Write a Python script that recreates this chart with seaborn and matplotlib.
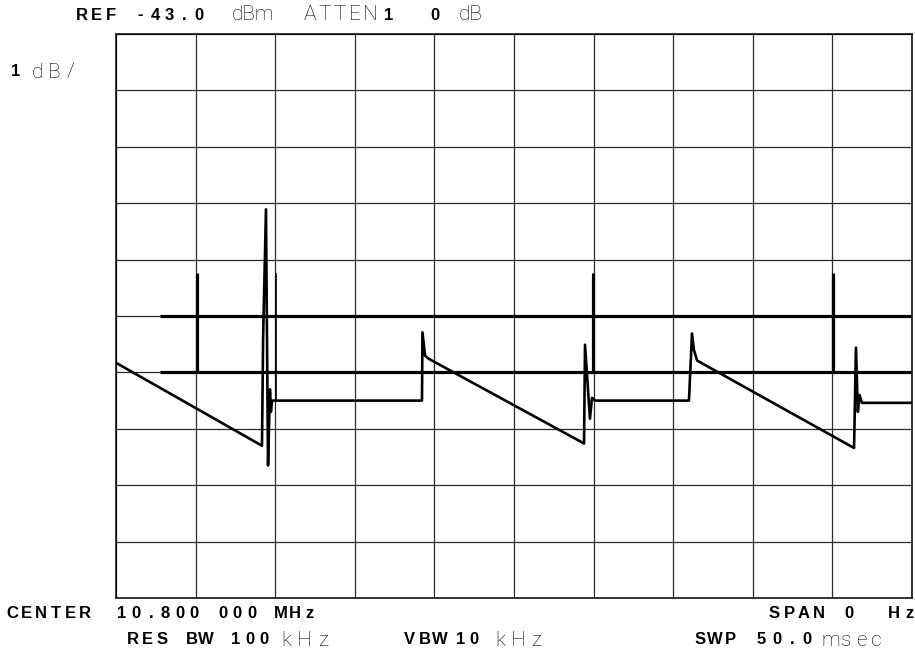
import pandas as pd
import matplotlib
matplotlib.use("Agg")
import matplotlib.pyplot as plt
import seaborn as sns

# Main trace (zero span, time in ms vs level in dBm)
time_ms = [0.0, 9.17, 9.24, 9.42, 9.55, 9.67, 9.73, 9.80,
           19.22, 19.25, 19.41, 19.60, 19.91,
           29.40, 29.46, 29.77, 29.90, 30.10,
           35.99, 36.18, 36.30, 36.50,
           46.36, 46.48, 46.60, 46.70, 46.86, 50.0]
level_dbm = [-48.83, -50.30, -48.40, -46.11, -50.65, -49.30, -49.70, -49.50,
             -49.50, -48.29, -48.70, -48.75, -48.80,
             -50.26, -48.51, -49.82, -49.45, -49.50,
             -49.50, -48.31, -48.60, -48.79,
             -50.34, -48.56, -49.70, -49.40, -49.54, -49.54]

# Second (gate) trace
gate_levels = [-48.0, -49.0]
gate_start, gate_end = 2.76, 50.0
gate_edges = [5.09, 29.96, 45.04]
gate_thin_edge = 10.05
gate_top, gate_bottom = -47.23, -49.0

ref_level = -43.0
db_per_div = 1.0
sweep_ms = 50.0

df = pd.DataFrame({"time": time_ms, "level": level_dbm})

sns.set_style("white")
plt.rcParams["font.family"] = ["Liberation Sans", "DejaVu Sans"]

fig = plt.figure(figsize=(9.15, 6.59), dpi=100)
ax = fig.add_axes([116 / 915, 1 - 598 / 659, 796 / 915, 564 / 659])

# graticule 10 x 10
ax.set_xlim(0, sweep_ms)
ax.set_ylim(ref_level - 10 * db_per_div, ref_level)
ax.set_xticks([i * sweep_ms / 10 for i in range(11)])
ax.set_yticks([ref_level - i * db_per_div for i in range(11)])
ax.grid(True, color="#2a2a2a", linewidth=0.9)
ax.tick_params(length=0, labelbottom=False, labelleft=False)
for s in ax.spines.values():
    s.set_color("black")
    s.set_linewidth(1.1)

# gate trace
ax.hlines(gate_levels, gate_start, gate_end, color="black", linewidth=2.3, zorder=3)
ax.vlines(gate_edges, gate_bottom, gate_top, color="black", linewidth=2.3, zorder=3)
ax.vlines(gate_thin_edge, -49.5, gate_top, color="black", linewidth=1.2, zorder=3)

# main trace
sns.lineplot(data=df, x="time", y="level", sort=False, color="black",
             linewidth=1.9, ax=ax, zorder=4)
ax.set_xlabel("")
ax.set_ylabel("")

THIN = dict(fontsize=15, fontweight="light", color="black",
            family=["Roboto", "DejaVu Sans"])


# screen annotations: bold parts sit in fixed character cells
def cells(cx, y, s, pitch, bold=True):
    for i, ch in enumerate(s):
        if ch == " ":
            continue
        if bold:
            fig.text((cx + i * pitch) / 915, 1 - y / 659, ch, ha="center",
                     va="center", fontsize=12, fontweight="bold", color="black",
                     family=["Liberation Sans", "DejaVu Sans"])
        else:
            fig.text((cx + i * pitch) / 915, 1 - y / 659, ch, ha="center",
                     va="center", **THIN)


def word(x, y, s):
    fig.text(x / 915, 1 - y / 659, s, ha="left", va="center", **THIN)


cells(82, 15, "REF -43.0", 14.6)
word(232, 15, "dBm")
cells(310, 15, "ATTEN", 15, bold=False)
cells(389, 15, "1", 14.6)
cells(435, 15, "0", 14.6)
word(459, 15, "dB")

cells(16, 72, "1", 14.6)
cells(37, 72, "dB/", 17, bold=False)

cells(12, 613, "CENTER", 14.6)
cells(122, 613, "10.800 000 MHz", 14.4)
cells(774, 613, "SPAN 0  Hz", 15)

cells(133, 640, "RES BW 100", 14.6)
cells(286, 640, "kHz", 18.5, bold=False)
cells(409, 640, "VBW", 15.5)
cells(461, 640, "10", 13)
cells(500, 640, "kHz", 18, bold=False)
cells(700, 640, "SWP 50.0", 15.3)
cells(831, 640, "msec", 15, bold=False)

fig.savefig("out.png", dpi=100)
